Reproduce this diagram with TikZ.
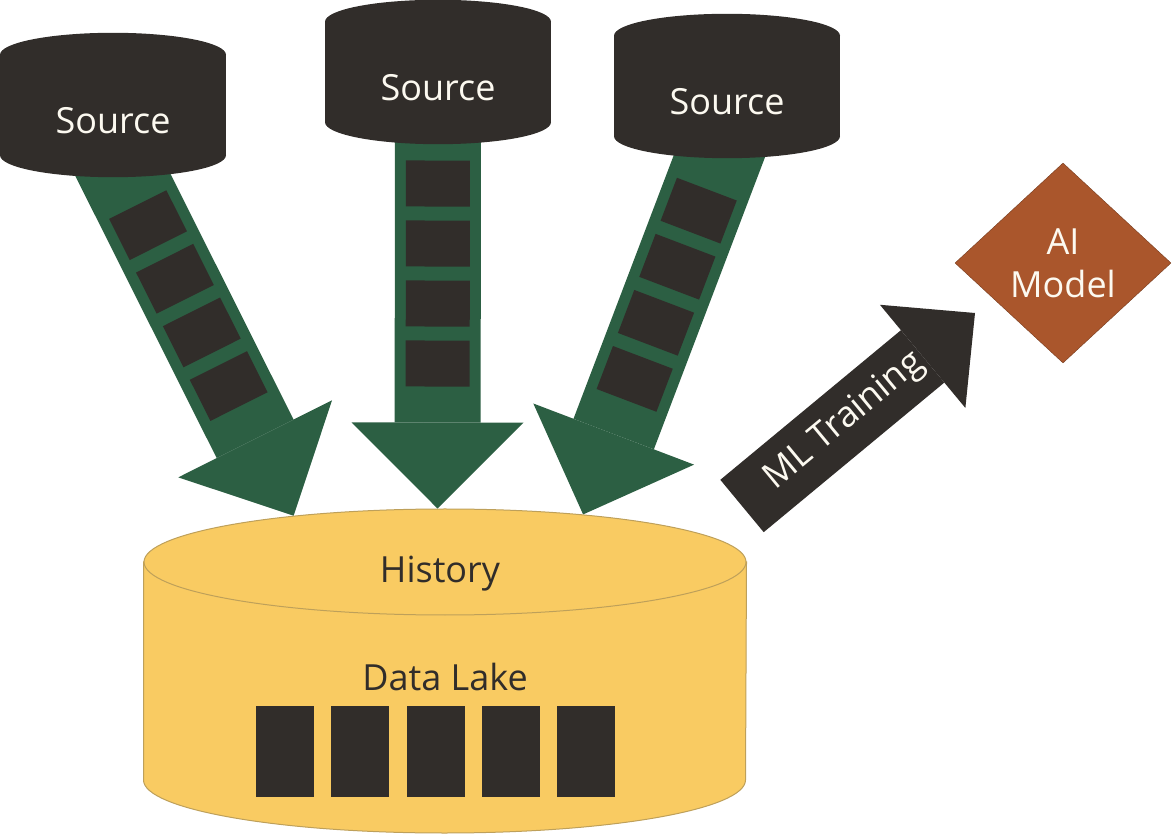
\documentclass[tikz,border=0pt]{standalone}
\usepackage{fontspec}
\setmainfont{Open Sans}
\usetikzlibrary{arrows.meta,shapes.geometric,decorations.markings}
\definecolor{ink}{RGB}{49,45,42}
\definecolor{leaf}{RGB}{44,95,67}
\definecolor{sand}{RGB}{249,203,98}
\definecolor{sandline}{RGB}{190,160,90}
\definecolor{rust}{RGB}{170,86,44}
\definecolor{cream}{RGB}{252,249,240}
\newcommand{\drumfont}{\fontsize{36}{43}\selectfont}
\pgfdeclarelayer{back}
\pgfsetlayers{back,main}
\begin{document}
\begin{tikzpicture}[x = 1pt, y = 1pt,
                    src/.style   = {shape = rectangle,
                                    minimum width = 226pt,
                                    minimum height = 78pt,
                                    inner sep = 0pt,
                                    text height = 36pt,
                                    text depth = 0pt,
                                    text = cream,
                                    font = \drumfont},
                    chunk/.style = {shape = rectangle,
                                    fill = ink,
                                    minimum width = 46pt,
                                    minimum height = 64pt,
                                    inner sep = 0pt},
                    feed/.style  = {draw = leaf,
                                    line width = 86pt,
                                    -{Triangle[length = 86pt, width = 172pt, line width = 0pt]},
                                    postaction = {decorate, decoration = {markings,
                                        mark = at position -145pt with {\node[chunk, transform shape] {};},
                                        mark = at position -205pt with {\node[chunk, transform shape] {};},
                                        mark = at position -265pt with {\node[chunk, transform shape] {};},
                                        mark = at position -325pt with {\node[chunk, transform shape] {};}}}},
                    blk/.style   = {shape = rectangle,
                                    fill = ink,
                                    minimum width = 58pt,
                                    minimum height = 91pt,
                                    inner sep = 0pt}]
		\useasboundingbox (0,0) rectangle (1172,833);
		\node[src] (src1) at (113,717) {Source};
		\node[src] (src2) at (438,750) {Source};
		\node[src] (src3) at (727,736) {Source};
		\node[ellipse, fill = sand, draw = sandline, line width = 1pt,
		      minimum width = 602pt, minimum height = 106pt, inner sep = 0pt] (lake) at (445,271) {};
		\node[text = ink, font = \drumfont] (history) at (440,259) {History};
		\node[text = ink, font = \drumfont] (datalake) at (445,156) {Data Lake};
		\foreach \i in {1,...,5}
			\node[blk] (blk\i) at (209.7+75.3*\i,81.5) {};
		\node[diamond, fill = rust, draw = rust!70!black, minimum width = 216pt, minimum height = 200pt,
		      inner sep = 0pt, text = cream, align = center, font = \drumfont] (model) at (1063,570) {AI\\Model};
		\coordinate (mltail) at (742,327);
		\coordinate (mltip) at (975,520);
		\draw[draw = ink, line width = 68pt, -{Triangle[length = 68pt, width = 134pt, line width = 0pt]}]
			(mltail) -- (mltip) node[sloped, pos = 0.44, text = cream, font = \drumfont] {ML Training};
		\begin{pgfonlayer}{back}
			\draw[feed] (src1.south) -- (lake.163.6);
			\draw[feed] (src2.south) -- (lake.98.7);
			\draw[feed] (src3.south) -- (lake.19.2);
			\foreach \s in {src1,src2,src3} {
				\fill[ink] (\s.south west) rectangle ([yshift=22pt]\s.north east);
				\fill[ink] ([yshift=22pt]\s.north) ellipse[x radius = 113pt, y radius = 22pt];
				\fill[ink] (\s.south) ellipse[x radius = 113pt, y radius = 22pt];
			}
			\filldraw[fill = sand, draw = sandline, line width = 1pt] (lake.west) -- ++(0,-218)
				arc[start angle = 180, end angle = 360, x radius = 301pt, y radius = 53pt] -- (lake.east) -- cycle;
		\end{pgfonlayer}
	\end{tikzpicture}
\end{document}
